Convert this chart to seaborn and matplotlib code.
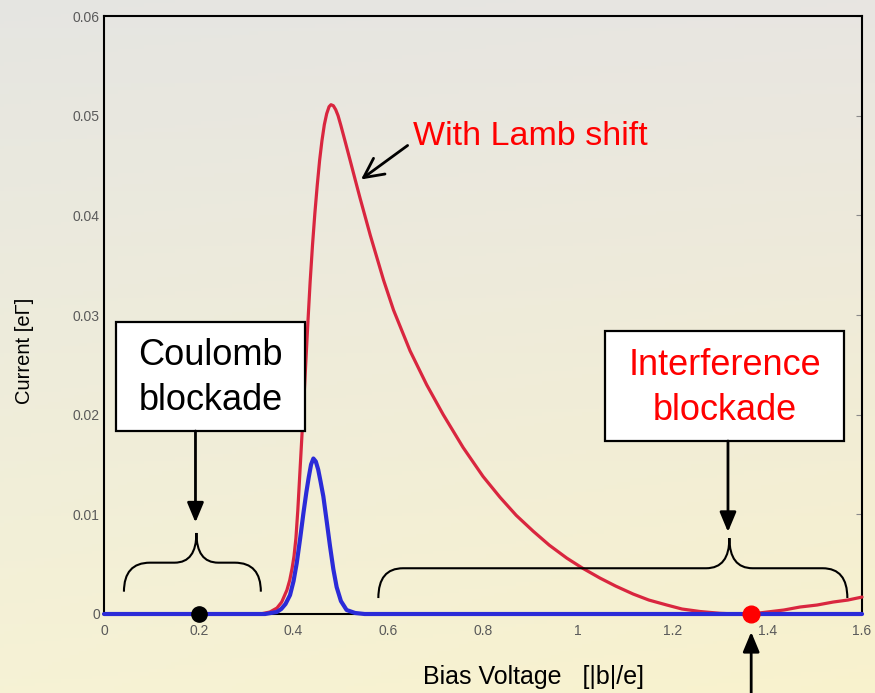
import numpy as np
import pandas as pd
import matplotlib
matplotlib.use('Agg')
import matplotlib.pyplot as plt
import seaborn as sns
from matplotlib.path import Path
from matplotlib.patches import PathPatch, Rectangle

# ---------------- data ----------------
red_x = [0, 0.30, 0.33, 0.35, 0.365, 0.375, 0.386, 0.392, 0.397, 0.401, 0.405, 0.409,
         0.414, 0.419, 0.424, 0.430, 0.435, 0.440, 0.445, 0.450, 0.455, 0.460, 0.465,
         0.470, 0.475, 0.479, 0.484, 0.489, 0.494, 0.500, 0.509, 0.519, 0.530, 0.540,
         0.562, 0.590, 0.611, 0.646, 0.681, 0.716, 0.758, 0.80, 0.836, 0.87, 0.906,
         0.94, 0.977, 1.01, 1.047, 1.08, 1.117, 1.15, 1.188, 1.22, 1.258, 1.30, 1.33,
         1.366, 1.40, 1.435, 1.469, 1.505, 1.539, 1.57, 1.6]
red_y = [0, 0, 0.0, 0.0002, 0.0006, 0.0012, 0.0024, 0.0034, 0.0046, 0.0058, 0.0076, 0.0104,
         0.0147, 0.0190, 0.0235, 0.0290, 0.0333, 0.0370, 0.0402, 0.0430, 0.0455, 0.0475, 0.0491,
         0.0502, 0.0509, 0.0511, 0.0510, 0.0506, 0.0500, 0.0490, 0.0474, 0.0456, 0.0436, 0.0418,
         0.0380, 0.0335, 0.0305, 0.0264, 0.0230, 0.0200, 0.0167, 0.0138, 0.0117, 0.0099, 0.0083,
         0.0069, 0.0056, 0.0046, 0.0036, 0.0028, 0.0020, 0.0014, 0.0009, 0.0005, 0.00025, 0.00007, 0.00001,
         0, 0.0002, 0.0004, 0.0007, 0.0009, 0.0012, 0.0014, 0.0017]

blue_x = [0, 0.34, 0.3645, 0.374, 0.383, 0.3926, 0.40, 0.4067, 0.414, 0.4208, 0.427, 0.432,
          0.437, 0.4419, 0.447, 0.452, 0.457, 0.4629, 0.470, 0.477, 0.484, 0.491, 0.50,
          0.512, 0.53, 0.55, 1.6]
blue_y = [0, 0, 0.0002, 0.0005, 0.0010, 0.0019, 0.0033, 0.0051, 0.0076, 0.0101, 0.0122, 0.0137,
          0.0150, 0.0156, 0.0153, 0.0145, 0.0133, 0.0118, 0.0093, 0.0068, 0.0045, 0.0027, 0.0013,
          0.0004, 0.0001, 0, 0]

x_ticks = [0, 0.2, 0.4, 0.6, 0.8, 1.0, 1.2, 1.4, 1.6]
x_tick_labels = ['0', '0.2', '0.4', '0.6', '0.8', '1', '1.2', '1.4', '1.6']
y_ticks = [0, 0.01, 0.02, 0.03, 0.04, 0.05, 0.06]
y_tick_labels = ['0', '0.01', '0.02', '0.03', '0.04', '0.05', '0.06']

coulomb_point = 0.2
interference_point = 1.366

# ---------------- style ----------------
sns.set_style('white')
plt.rcParams['font.family'] = ['Liberation Sans', 'DejaVu Sans']
plt.rcParams['text.color'] = 'black'
plt.rcParams['axes.labelcolor'] = 'black'

fig = plt.figure(figsize=(8.75, 6.93), dpi=100)

# background gradient (slide texture approximation)
bg = fig.add_axes([0, 0, 1, 1], zorder=-10)
ny, nx = 200, 200
t = np.linspace(0, 1, ny)[:, None]
s = np.linspace(0, 1, nx)[None, :]
top = np.array([0.900, 0.900, 0.885])
bot = np.array([0.965, 0.950, 0.835])
img = top[None, None, :] * (1 - t[..., None]) + bot[None, None, :] * t[..., None]
img = img + np.zeros((ny, nx, 3))
img[..., 2] -= 0.03 * s * t
img[..., 0] += 0.01 * s
img = np.clip(img, 0, 1)
bg.imshow(img, aspect='auto', extent=[0, 1, 0, 1], origin='upper')
bg.set_axis_off()

ax = fig.add_axes([0.1189, 0.114, 0.8663, 0.8629])
ax.patch.set_alpha(0)

df_red = pd.DataFrame({'x': red_x, 'y': red_y})
df_blue = pd.DataFrame({'x': blue_x, 'y': blue_y})
sns.lineplot(data=df_red, x='x', y='y', ax=ax, color='#d9263f', lw=2.3,
             estimator=None, sort=False, clip_on=False, zorder=3)
sns.lineplot(data=df_blue, x='x', y='y', ax=ax, color='#2b2bd8', lw=3.0,
             estimator=None, sort=False, clip_on=False, zorder=4)

ax.set_xlim(0, 1.6)
ax.set_ylim(0, 0.06)
ax.set_xticks(x_ticks)
ax.set_xticklabels(x_tick_labels)
ax.set_yticks(y_ticks)
ax.set_yticklabels(y_tick_labels)
ax.tick_params(direction='in', length=4, width=0.8, color='#8a8a8a',
               labelsize=10, labelcolor='#5a5a5a', top=False, right=True)
ax.tick_params(axis='x', pad=7)
ax.tick_params(axis='y', pad=3)
for sp in ax.spines.values():
    sp.set_color('black')
    sp.set_linewidth(1.5)

ax.set_xlabel('Bias Voltage   [|b|/e]', fontsize=18, color='black')
ax.set_ylabel('Current [eΓ]', fontsize=14.5, color='black')
ax.xaxis.set_label_coords(0.566, -0.085)
ax.yaxis.set_label_coords(-0.092, 0.44)

# points
ax.plot([coulomb_point], [0], 'o', color='black', ms=11, clip_on=False, zorder=10)
ax.plot([interference_point], [0], 'o', color='#ff0000', ms=12, clip_on=False, zorder=10)

# text annotations
ax.text(0.652, 0.04704, 'With Lamb shift', color='#ff0000', fontsize=24.5,
        ha='left', va='baseline')
ax.annotate('', xy=(0.5425, 0.0436), xytext=(0.6408, 0.04701),
            arrowprops=dict(arrowstyle='->,head_length=0.7,head_width=0.35', color='black',
                            lw=2, shrinkA=0, shrinkB=0, mutation_scale=20))


def box(x0, y0, w, h):
    ax.add_patch(Rectangle((x0, y0), w, h, facecolor='white', edgecolor='black',
                           lw=1.6, zorder=6))


def brace(x0, x1, xc, y_end, y_h, y_tip, de, dm):
    verts = [(x0, y_end), (x0, y_h), (x0 + de, y_h), (xc - dm, y_h),
             (xc, y_h), (xc, y_tip), (xc, y_h), (xc + dm, y_h),
             (x1 - de, y_h), (x1, y_h), (x1, y_end)]
    codes = [Path.MOVETO, Path.CURVE3, Path.CURVE3, Path.LINETO,
             Path.CURVE3, Path.CURVE3, Path.CURVE3, Path.CURVE3,
             Path.LINETO, Path.CURVE3, Path.CURVE3]
    ax.add_patch(PathPatch(Path(verts, codes), facecolor='none', edgecolor='black',
                           lw=1.5, zorder=6))


def down_arrow(x, y_from, y_to):
    ax.annotate('', xy=(x, y_to), xytext=(x, y_from), annotation_clip=False,
                arrowprops=dict(arrowstyle='-|>,head_length=0.6,head_width=0.25',
                                color='black', lw=2, shrinkA=0, shrinkB=0,
                                mutation_scale=20), zorder=7)


# Coulomb blockade
box(0.0253, 0.01836, 0.399, 0.01097)
ax.text(0.2247, 0.02497, 'Coulomb', fontsize=26, color='black', ha='center', va='baseline', zorder=7)
ax.text(0.2247, 0.02046, 'blockade', fontsize=26, color='black', ha='center', va='baseline', zorder=7)
down_arrow(0.193, 0.01836, 0.00918)
brace(0.042, 0.331, 0.195, 0.00224, 0.00515, 0.00813, 0.055, 0.046)

# Interference blockade
box(1.0575, 0.01736, 0.5045, 0.01107)
ax.text(1.3108, 0.02397, 'Interference', fontsize=26, color='#ff0000',
        ha='center', va='baseline', zorder=7)
ax.text(1.3108, 0.01946, 'blockade', fontsize=26, color='#ff0000',
        ha='center', va='baseline', zorder=7)
down_arrow(1.317, 0.01736, 0.00823)
brace(0.579, 1.569, 1.320, 0.0016, 0.00459, 0.00762, 0.052, 0.049)

# arrow from below pointing at the red point
ax.annotate('', xy=(interference_point, -0.0018), xytext=(interference_point, -0.0085),
            annotation_clip=False,
            arrowprops=dict(arrowstyle='-|>,head_length=0.6,head_width=0.25',
                            color='black', lw=2, shrinkA=0, shrinkB=0, mutation_scale=20))

fig.savefig('out.png', dpi=100)
